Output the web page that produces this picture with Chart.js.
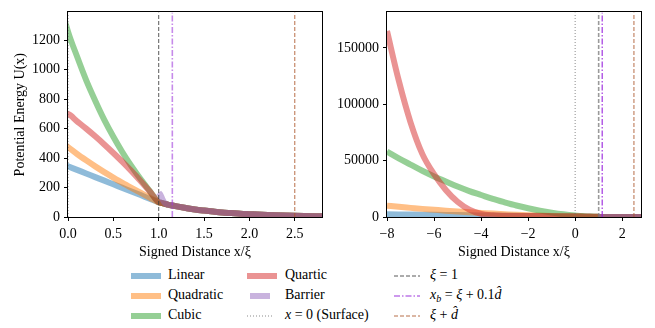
<!DOCTYPE html>
<html><head><meta charset="utf-8">
<script src="https://cdn.jsdelivr.net/npm/chart.js@4.4.1/dist/chart.umd.min.js"></script>
<style>
html,body{margin:0;padding:0;background:#fff;width:655px;height:328px;overflow:hidden;}
#left{position:absolute;left:0;top:0;}
#right{position:absolute;left:330px;top:0;}
.lt{position:absolute;font-family:'Liberation Serif','Times New Roman',serif;font-size:14px;color:#000;line-height:16px;white-space:nowrap;}
.ls{position:absolute;}
sub{font-size:10px;vertical-align:-3px;line-height:0;}
</style></head><body>
<canvas id="left" width="330" height="262"></canvas>
<canvas id="right" width="325" height="262"></canvas>
<div id="legend"></div>
<script>
// ---- data ----
const xs = [-8,-7.5,-7,-6.5,-6,-5.5,-5,-4.5,-4,-3.5,-3,-2.5,-2,-1.5,-1,-0.5,
  0,0.1,0.2,0.3,0.4,0.5,0.6,0.7,0.8,0.9,1.0,
  1.02,1.04,1.06,1.08,1.1,1.15,1.2,1.3,1.4,1.5,1.6,1.7,1.8,1.9,2.0,2.2,2.4,2.6,2.8];
const linear = [2450,2320,2190,2060,1930,1800,1670,1540,1410,1280,1150,1020,880,750,610,480,
  345,320,296,271,247,222,198,173,149,124,100,
  97,94,90.5,87.5,84.5,78,72,61,51,43.5,37,31,26.5,22,19,13.5,9.7,7,5];
const quadratic = [10000,9000,8100,7200,6400,5600,4900,4200,3600,3000,2500,2000,1600,1250,950,700,
  475,428,385,344,305,268,232,198,165,132,100,
  97,94,90.5,87.5,84.5,78,72,61,51,43.5,37,31,26.5,22,19,13.5,9.7,7,5];
const cubic = [58000,52000,46500,41000,36000,31500,27000,23000,19500,16000,13000,10200,7800,5700,3900,2400,
  1260,1090,930,790,660,545,440,345,258,178,100,
  97,94,90.5,87.5,84.5,78,72,61,51,43.5,37,31,26.5,22,19,13.5,9.7,7,5];
const quartic = [165000,121000,84000,56000,38000,24000,13500,6500,2800,1500,1100,950,870,810,770,735,
  700,650,600,548,493,435,375,312,245,175,100,
  97,94,90.5,87.5,84.5,78,72,61,51,43.5,37,31,26.5,22,19,13.5,9.7,7,5];
const barrier = [null,null,null,null,null,null,null,null,null,null,null,null,null,null,null,null,
  null,null,null,null,null,null,null,null,null,null,165,
  150,122,100,89,84.5,78,72,61,51,43.5,37,31,26.5,22,19,13.5,9.7,7,5];
const surfaceX = 0, xiX = 1, xbX = 1.15, xiDX = 2.5;
const leftXTicks = [0,0.5,1.0,1.5,2.0,2.5];
const leftYTicks = [0,200,400,600,800,1000,1200];
const rightXTicks = [-8,-6,-4,-2,0,2];
const rightYTicks = [0,50000,100000,150000];
const leftRange = {xmin:0, xmax:2.8, ymax:1390};
const rightRange = {xmin:-8, xmax:2.8, ymax:181500};

// ---- styling ----
const FONT = "'Liberation Serif','Times New Roman',serif";
const COL = {
  linear:'rgba(31,119,180,0.5)', quadratic:'rgba(255,127,14,0.5)', cubic:'rgba(44,160,44,0.5)',
  quartic:'rgba(214,39,40,0.5)', barrier:'rgba(148,103,189,0.5)'
};
function series(arr){ return xs.map((x,i)=>({x:x,y:arr[i]})).filter(p=>p.y!==null); }
function vline(x,ymax){ return [{x:x,y:0},{x:x,y:ymax}]; }
function curve(label,arr,color,order){
  return {label, data:series(arr), borderColor:color, borderWidth:6, pointRadius:0, fill:false,
    cubicInterpolationMode:'monotone', clip:0, borderCapStyle:'butt', borderJoinStyle:'round', order};
}
function vds(label,x,ymax,color,width,dash,order){
  return {label, data:vline(x,ymax), borderColor:color, borderWidth:width, borderDash:dash,
    pointRadius:0, fill:false, clip:0, order};
}
const frame = {id:'frame', afterDatasetsDraw(chart){
  const {ctx, chartArea:a} = chart; ctx.save(); ctx.strokeStyle='#000'; ctx.lineWidth=1;
  ctx.strokeRect(Math.round(a.left)-0.5, Math.round(a.top)-0.5, Math.round(a.right-a.left)+1, Math.round(a.bottom-a.top)+1);
  ctx.restore(); }};

function axis(range, isX, ticksArr, fmt, extra){
  const o = {type:'linear', min: isX?range.xmin:0, max: isX?range.xmax:range.ymax,
    border:{display:false},
    grid:{drawOnChartArea:false, drawTicks:true, tickLength:4, color:'#000', lineWidth:1},
    ticks:{color:'#000', font:{family:FONT,size:14}, padding: isX?5:4, maxRotation:0, autoSkip:false,
      callback:(v)=>fmt(v)},
    afterBuildTicks:(s)=>{ s.ticks = ticksArr.map(v=>({value:v})); }
  };
  return Object.assign(o, extra||{});
}
const xTitle = {display:true, text:'Signed Distance x/ξ', color:'#000', font:{family:FONT,size:14}, padding:{top:0,bottom:1}};

function build(id, range, xT, yT, xfmt, yfmt, yW, padRight, yTitle, vstyles){
  const ds = [
    curve('Linear',linear,COL.linear,20),
    curve('Quadratic',quadratic,COL.quadratic,19),
    curve('Cubic',cubic,COL.cubic,18),
    curve('Quartic',quartic,COL.quartic,17),
    curve('Barrier',barrier,COL.barrier,16),
    vds('x = 0 (Surface)',surfaceX,range.ymax,'rgba(110,110,110,0.8)',1,[1,2],4),
    vds('ξ = 1',xiX,range.ymax,vstyles.xiC,vstyles.xiW,[4,2],3),
    vds('x_b',xbX,range.ymax,vstyles.xbC,vstyles.xbW,[6,2,1.5,2],2),
    vds('ξ + d',xiDX,range.ymax,'rgba(170,85,40,0.85)',1,[4,2],1)
  ];
  const yAxis = axis(range,false,yT,yfmt,{afterFit:(s)=>{s.width=yW;}});
  if (yTitle) yAxis.title = {display:true, text:yTitle, color:'#000', font:{family:FONT,size:14}, padding:{top:12,bottom:12}};
  return new Chart(document.getElementById(id), {
    type:'line', data:{datasets:ds},
    options:{responsive:false, animation:false, devicePixelRatio:1, events:[],
      layout:{padding:{left:0, top:6, right:padRight, bottom:0}},
      plugins:{legend:{display:false}, tooltip:{enabled:false}},
      scales:{
        x: axis(range,true,xT,xfmt,{title:xTitle, afterFit:(s)=>{s.height=45;}}),
        y: yAxis
      }},
    plugins:[frame]
  });
}
build('left', leftRange, leftXTicks, leftYTicks, v=>v.toFixed(1), v=>String(v), 68, 8,
  'Potential Energy U(x)', {xiC:'rgba(60,60,60,0.85)', xiW:1, xbC:'rgba(160,60,220,0.6)', xbW:1.6});
build('right', rightRange, rightXTicks, rightYTicks, v=>(v<0?'\u2212'+Math.abs(v):String(v)), v=>String(v), 57, 14,
  null, {xiC:'rgba(120,120,120,0.75)', xiW:1.6, xbC:'rgba(150,30,220,0.9)', xbW:1.2});

// ---- legend ----
const legendItems = [
  {html:'Linear', col:0, row:0, kind:'thick', color:COL.linear},
  {html:'Quadratic', col:0, row:1, kind:'thick', color:COL.quadratic},
  {html:'Cubic', col:0, row:2, kind:'thick', color:COL.cubic},
  {html:'Quartic', col:1, row:0, kind:'thick', color:COL.quartic},
  {html:'Barrier', col:1, row:1, kind:'thick', color:COL.barrier, short:true},
  {html:'<i>x</i> = 0 (Surface)', col:1, row:2, kind:'thin', color:'rgba(110,110,110,0.8)', dash:'1,2'},
  {html:'<i>ξ</i> = 1', col:2, row:0, kind:'thin', color:'rgba(60,60,60,0.85)', dash:'4,2'},
  {html:'<i>x<sub>b</sub></i> = <i>ξ</i> + 0.1<i>d̂</i>', col:2, row:1, kind:'thin', color:'rgba(160,60,220,0.7)', dash:'6,2,1.5,2', w:1.4},
  {html:'<i>ξ</i> + <i>d̂</i>', col:2, row:2, kind:'thin', color:'rgba(170,85,40,0.85)', dash:'4,2'}
];
const colSample = [131, 247, 394], colText = [168, 285, 430], rowY = [276, 296, 316];
const lg = document.getElementById('legend');
legendItems.forEach(it=>{
  const x0 = colSample[it.col] + (it.short?3:0), w = it.short?20:(it.kind==='thick'?30:26);
  const y = rowY[it.row];
  const svg = document.createElementNS('http://www.w3.org/2000/svg','svg');
  svg.setAttribute('class','ls'); svg.setAttribute('width', w); svg.setAttribute('height', 10);
  svg.style.left = x0+'px'; svg.style.top = (y-5)+'px';
  const ln = document.createElementNS('http://www.w3.org/2000/svg','line');
  ln.setAttribute('x1',0); ln.setAttribute('x2',w); ln.setAttribute('y1',5); ln.setAttribute('y2',5);
  ln.setAttribute('stroke', it.color);
  ln.setAttribute('stroke-width', it.kind==='thick'?6:(it.w||1));
  if (it.dash) ln.setAttribute('stroke-dasharray', it.dash);
  svg.appendChild(ln); lg.appendChild(svg);
  const t = document.createElement('div'); t.className='lt'; t.innerHTML = it.html;
  t.style.left = colText[it.col]+'px'; t.style.top = (y-9)+'px'; lg.appendChild(t);
});
</script>
</body></html>
